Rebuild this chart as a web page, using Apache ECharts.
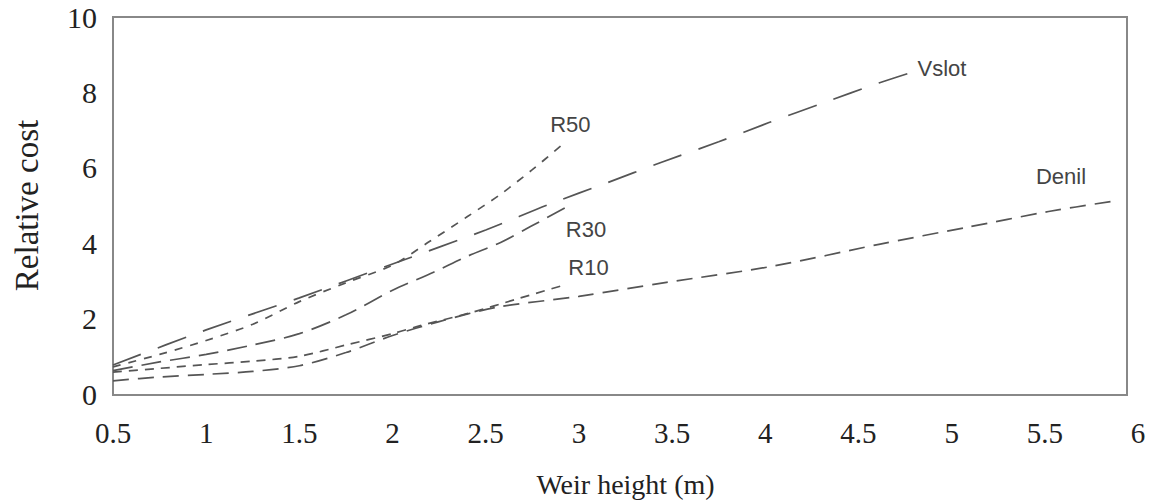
<!DOCTYPE html>
<html>
<head>
<meta charset="utf-8">
<script src="https://cdn.jsdelivr.net/npm/echarts@6/dist/echarts.min.js"></script>
<style>
html,body{margin:0;padding:0;background:#fff;}
#chart{width:1149px;height:503px;}
</style>
</head>
<body>
<div id="chart"></div>
<script>
// ---- data (x = weir height in m, y = relative cost) ----
const xTicks = [0.5, 1, 1.5, 2, 2.5, 3, 3.5, 4, 4.5, 5, 5.5, 6];
const yTicks = [0, 2, 4, 6, 8, 10];

const vslot = [[0.5,0.77],[1,1.7],[1.5,2.55],[2,3.45],[2.5,4.35],[2.85,5.05],[3.15,5.6],[3.44,6.14],[3.75,6.69],[4.02,7.2],[4.31,7.72],[4.61,8.25],[4.79,8.54]];
const r50 = [[0.5,0.72],[0.75,1.05],[1,1.42],[1.25,1.85],[1.5,2.45],[1.75,2.95],[2,3.42],[2.2,4.05],[2.4,4.7],[2.58,5.3],[2.75,5.95],[2.91,6.61]];
const r30 = [[0.5,0.62],[0.75,0.85],[1,1.05],[1.25,1.3],[1.5,1.6],[1.75,2.1],[2,2.75],[2.22,3.23],[2.4,3.65],[2.58,4.02],[2.74,4.44],[2.93,4.95]];
const r10 = [[0.5,0.58],[0.75,0.68],[1,0.78],[1.25,0.87],[1.5,1.0],[1.75,1.3],[2,1.6],[2.14,1.8],[2.43,2.17],[2.66,2.51],[2.9,2.86]];
const denil = [[0.5,0.35],[0.75,0.45],[1,0.52],[1.25,0.6],[1.5,0.75],[1.75,1.1],[2,1.55],[2.25,1.92],[2.56,2.3],[3.0,2.59],[3.47,2.96],[4.04,3.39],[4.61,3.97],[5.08,4.42],[5.52,4.84],[5.86,5.11]];

const names = ['Vslot','R50','R30','R10','Denil'];
const seriesData = [vslot, r50, r30, r10, denil];

// styling (not data)
const dashes = [[30,18],[8,8],[20,9],[9,7],[16,9]];
const labelOffsets = [[0,-4],[-17,-20],[-5,22],[3,-19],[-81,-25]];

const chart = echarts.init(document.getElementById('chart'), null, {renderer:'svg'});

const series = names.map((n, i) => ({
  name: n, type: 'line', xAxisIndex: 1, yAxisIndex: 1,
  data: seriesData[i], smooth: 0.3, showSymbol: false, symbol: 'none',
  lineStyle: {color: '#555', width: 1.7, type: dashes[i]},
  endLabel: {
    show: true, formatter: n, color: '#444', distance: 5,
    fontFamily: 'Liberation Sans', fontSize: 22,
    offset: labelOffsets[i]
  },
  emphasis: {disabled: true}, animation: false, z: 3
}));

const serif = 'Liberation Serif';

chart.setOption({
  backgroundColor: '#fff',
  animation: false,
  textStyle: {fontFamily: serif},
  grid: [
    {left:113, right:22, top:17, bottom:108, show:true, borderColor:'#888', borderWidth:2, backgroundColor:'transparent'},
    {left:113, right:11, top:17, bottom:108}
  ],
  xAxis: [
    {gridIndex:0, type:'value', min:0, max:1, show:false},
    {gridIndex:1, type:'value', min:0.5, max:6, interval:0.5,
     name:'Weir height (m)', nameLocation:'middle', nameGap:76,
     nameTextStyle:{fontFamily:serif, fontSize:28, color:'#222'},
     axisLine:{show:false}, axisTick:{show:false}, splitLine:{show:false},
     axisLabel:{fontFamily:serif, fontSize:29, color:'#222', margin:24,
       formatter: v => String(v)}}
  ],
  yAxis: [
    {gridIndex:0, type:'value', min:0, max:1, show:false},
    {gridIndex:1, type:'value', min:0, max:10, interval:2,
     name:'Relative cost', nameLocation:'middle', nameGap:70, nameRotate:90,
     nameTextStyle:{fontFamily:serif, fontSize:33, color:'#222'},
     axisLine:{show:false}, axisTick:{show:false}, splitLine:{show:false},
     axisLabel:{fontFamily:serif, fontSize:30, color:'#222', margin:16,
       formatter: v => String(v)}}
  ],
  series: series
});
</script>
</body>
</html>
